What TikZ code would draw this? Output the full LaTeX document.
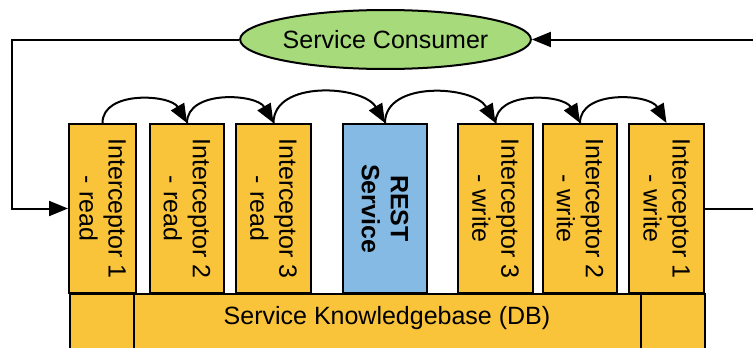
\documentclass[tikz,border=0pt]{standalone}
\usepackage{fontspec}
\setmainfont{Liberation Sans}
\usetikzlibrary{arrows.meta,shapes.geometric}
\definecolor{boxorange}{HTML}{F9C33A}
\definecolor{restblue}{HTML}{84BAE3}
\definecolor{consgreen}{HTML}{A6DA7A}
\tikzset{
  lbl/.style={font=\fontsize{25}{29}\selectfont},
  cell/.style={draw=black, line width=2pt, fill=boxorange, minimum height=169pt, inner sep=0pt},
  vtext/.style={lbl, rotate=-90, align=center, inner sep=0pt},
  arr/.style={line width=2pt, -{Triangle[length=19pt,width=15pt]}},
  hop/.style={arr, out=90, in=120},
}
\begin{document}
\begin{tikzpicture}[x=1pt,y=-1pt]
\useasboundingbox (0,0) rectangle (753,348);
\clip (0,0) rectangle (753,348);

% knowledge base row along the bottom
\node[cell, minimum width=64pt, minimum height=77pt, anchor=north west] (kbl) at (69,293) {};
\node[cell, minimum width=507pt, minimum height=77pt, anchor=north west] (kb) at (133,293) {};
\node[cell, minimum width=64pt, minimum height=77pt, anchor=north west] (kbr) at (640,293) {};
\node[lbl, inner sep=0pt] (kbt) at (387,318) {Service Knowledgebase (DB)};

% interceptor chain and the REST service
\node[cell, minimum width=67pt] (i1) at (102.5,208.5) {};
\node[cell, minimum width=74pt] (i2) at (187,208.5) {};
\node[cell, minimum width=75pt] (i3) at (273.5,208.5) {};
\node[cell, minimum width=84pt, fill=restblue] (rs) at (385,208.5) {};
\node[cell, minimum width=75pt] (o3) at (495.5,208.5) {};
\node[cell, minimum width=74pt] (o2) at (580,208.5) {};
\node[cell, minimum width=75pt] (o1) at (666.5,208.5) {};

\node[vtext] (i1t) at (i1) {Interceptor 1\\- read};
\node[vtext] (i2t) at (i2) {Interceptor 2\\- read};
\node[vtext] (i3t) at (i3) {Interceptor 3\\- read};
\node[vtext, font=\fontsize{25}{29}\selectfont\bfseries] (rst) at (rs) {REST\\Service};
\node[vtext] (o3t) at (o3) {Interceptor 3\\- write};
\node[vtext] (o2t) at (o2) {Interceptor 2\\- write};
\node[vtext] (o1t) at (o1) {Interceptor 1\\- write};

% consumer
\node[ellipse, draw=black, line width=2pt, fill=consgreen, lbl,
      minimum width=281pt, minimum height=59pt, inner sep=0pt] (sc) at (385.5,39.5) {Service Consumer};

% hops along the chain
\draw[hop] (i1.north) to (i2.north);
\draw[hop] (i2.north) to (i3.north);
\draw[hop] (i3.north) to (rs.north);
\draw[hop] (rs.north) to (o3.north);
\draw[hop] (o3.north) to (o2.north);
\draw[hop] (o2.north) to (o1.north);

% request in, response out
\coordinate (lc) at (12,120);
\coordinate (rc) at (770,120);
\draw[arr] (sc.west) -| (lc) |- (i1.west);
\draw[line width=2pt] (o1.east) -- (o1.east -| rc);
\draw[arr] (rc |- sc.east) -- (sc.east);
\end{tikzpicture}
\end{document}
